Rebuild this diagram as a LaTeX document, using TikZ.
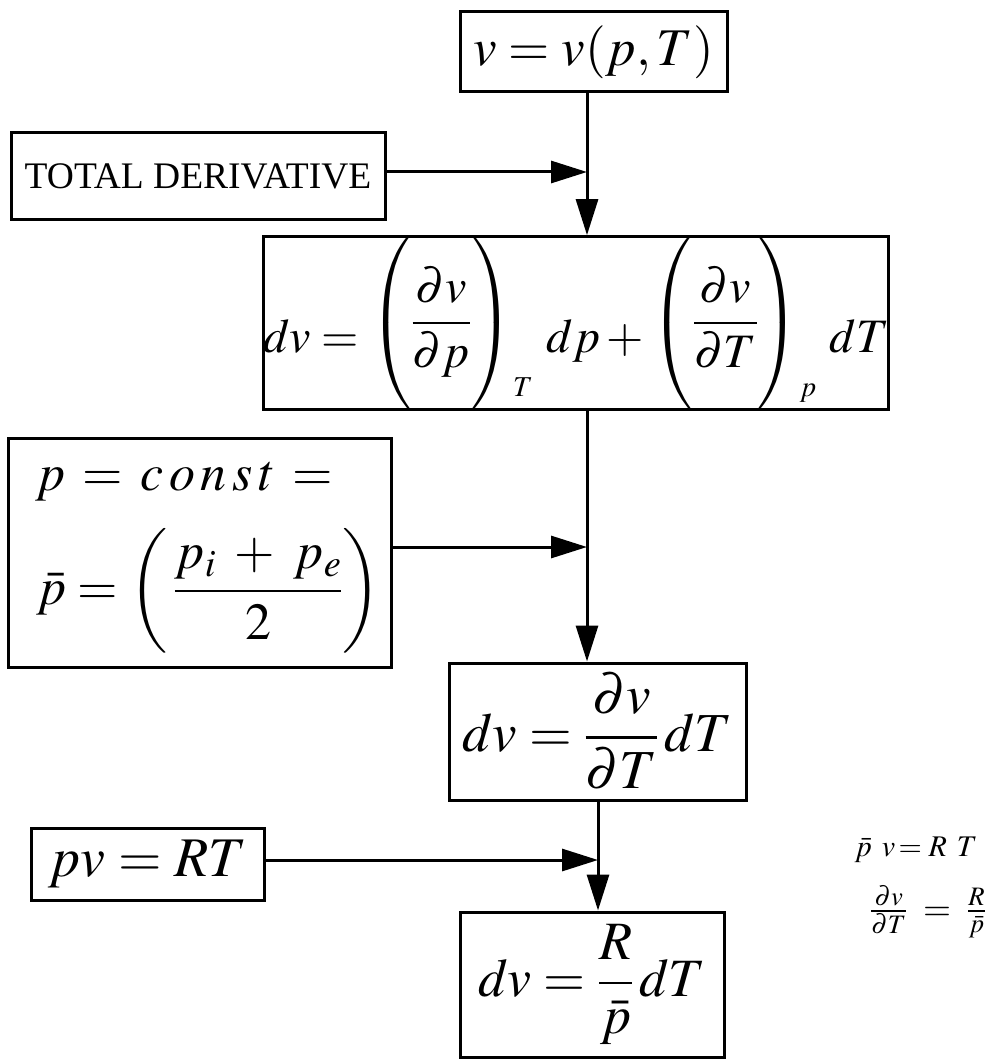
\documentclass[tikz,border=0pt]{standalone}
\usepackage{amsmath}
\usepackage{mathptmx}
\usepackage[no-math]{fontspec}
\setmainfont{Liberation Serif}
\usetikzlibrary{arrows.meta}
\newcommand\fsz[1]{\fontsize{#1}{#1}\selectfont}
\newcommand\tallstrut[1]{\vcenter{\hrule height #1 width 0pt}}
\tikzset{
  box/.style={draw, line width=3pt, inner sep=0pt, align=center},
  conn/.style={line width=3pt, -{Triangle[length=36pt,width=22pt]}},
  ptext/.style={inner sep=0pt, font=\fsz{52}},
  hand/.style={inner sep=0pt, font=\fsz{30}}
}
\begin{document}
\begin{tikzpicture}[x=1pt,y=-1pt]
\path[fill=white] (0,0) rectangle (998,1059);
\useasboundingbox (0,0) rectangle (998,1059);

% boxes
\node[box, minimum width=267pt, minimum height=80pt, font=\fsz{53}] (b1) at (593.5,52) {$v = v(p,T)$};
\node[box, minimum width=374pt, minimum height=87pt, font=\fsz{37.5}] (td) at (198,176.5) {TOTAL DERIVATIVE};
\node[box, minimum width=620pt, minimum height=170pt, font=\fsz{48}] (b3) at (576,323)
  {$dv = \raisebox{17pt}{$\left(\tallstrut{150pt}\dfrac{\partial v}{\partial p}\right)$}\raisebox{-44pt}{$\scriptscriptstyle T$}\mkern5mu dp + \raisebox{17pt}{$\left(\tallstrut{150pt}\dfrac{\partial v}{\partial T}\right)$}\raisebox{-44pt}{$\scriptscriptstyle p$}\mkern5mu dT$};
\node[box, minimum width=383pt, minimum height=229pt] (pb) at (199.5,552.5) {};
\node[ptext, anchor=base west] (pl1) at (35,490)
  {$p\mkern2mu=\mkern2mu c\mkern2mu o\mkern2mu n\mkern2mu s\mkern2mu t\mkern2mu=$};
\node[ptext, anchor=west] (pl2) at (36,591)
  {$\bar p=\left(\tallstrut{123pt}\mkern2mu\dfrac{p_{i}\mkern4mu+\mkern4mu p_{e}}{2}\right)$};
\node[box, minimum width=297pt, minimum height=137pt, font=\fsz{55}] (b4) at (597.5,731.5) {$dv = \dfrac{\partial v}{\partial T}\,dT$};
\node[box, minimum width=233pt, minimum height=72pt, font=\fsz{56}] (pv) at (147.5,864) {$pv = RT$};
\node[box, minimum width=264pt, minimum height=145pt, font=\fsz{54}] (b5) at (592,984.5) {$dv = \dfrac{R}{\bar p}\,dT$};

% handwritten note
\node[hand] (hw1) at (916,850) {$\bar p\mkern6mu v\mkern-2mu= R\mkern6mu T$};
\node[hand, font=\fsz{36}] (hw2) at (928,912) {$\frac{\partial v}{\partial T}\mkern4mu=\mkern4mu\frac{R}{\bar p}$};

% junctions
\coordinate (j1) at (587,172);
\coordinate (j2) at (587,547);
\coordinate (j3) at (598,860);

% connectors
\draw[conn] (b1.south -| j1) -- (b3.north -| j1);
\draw[conn] (td.east |- j1) -- (j1);
\draw[conn] (b3.south -| j2) -- (b4.north -| j2);
\draw[conn] (pb.east |- j2) -- (j2);
\draw[conn] (b4.south -| j3) -- (b5.north -| j3);
\draw[conn] (pv.east |- j3) -- (j3);
\end{tikzpicture}
\end{document}
